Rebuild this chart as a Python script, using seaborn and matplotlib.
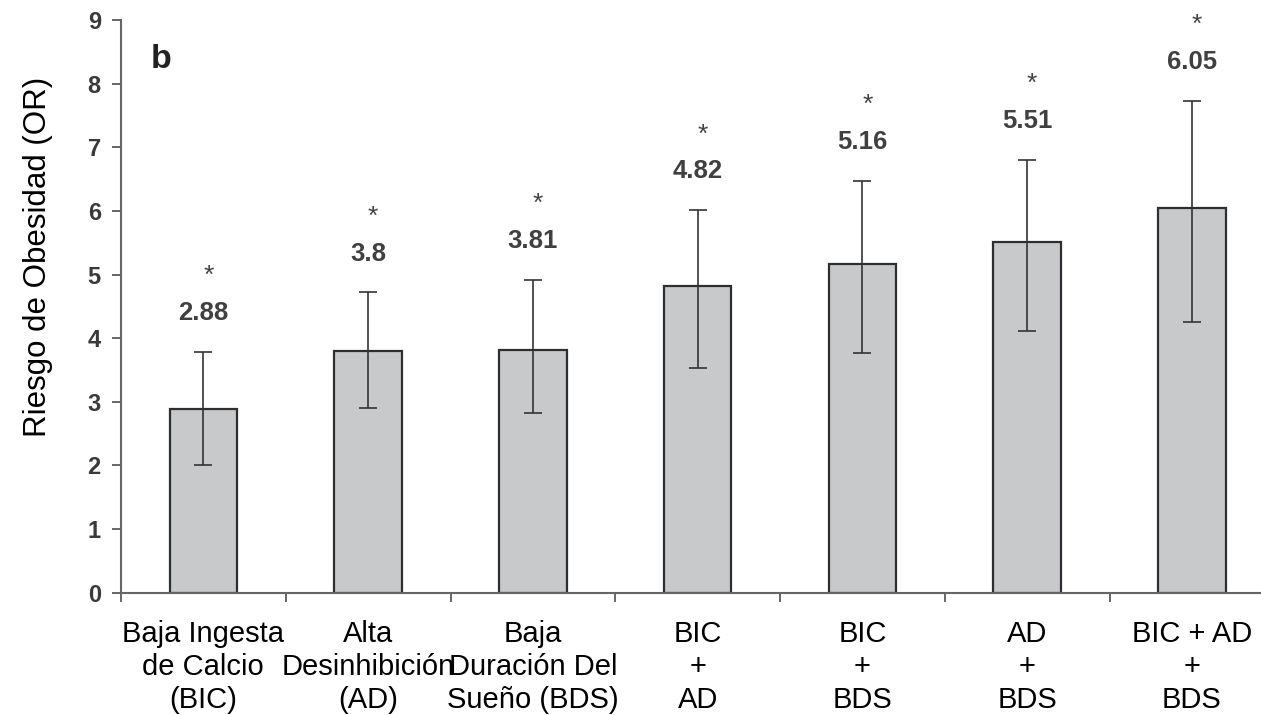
import matplotlib
matplotlib.use("Agg")
import matplotlib.pyplot as plt
import seaborn as sns
import numpy as np
import pandas as pd

# ---- data ----
categories = [
    "Baja Ingesta\nde Calcio\n(BIC)",
    "Alta\nDesinhibición\n(AD)",
    "Baja\nDuración Del\nSueño (BDS)",
    "BIC\n+\nAD",
    "BIC\n+\nBDS",
    "AD\n+\nBDS",
    "BIC + AD\n+\nBDS",
]
odds_ratio = [2.88, 3.8, 3.81, 4.82, 5.16, 5.51, 6.05]
ci_low = [2.00, 2.90, 2.83, 3.53, 3.76, 4.12, 4.25]
ci_high = [3.79, 4.72, 4.92, 6.01, 6.47, 6.80, 7.73]
value_labels = ["2.88", "3.8", "3.81", "4.82", "5.16", "5.51", "6.05"]
y_ticks = [0, 1, 2, 3, 4, 5, 6, 7, 8, 9]

df = pd.DataFrame({"cat": categories, "or": odds_ratio})

sns.set_style("ticks")
plt.rcParams["font.family"] = ["Liberation Sans", "DejaVu Sans"]

W, H = 1261, 715
fig = plt.figure(figsize=(W / 100, H / 100), dpi=100)
left_px, right_px, top_px, bottom_px = 121, 1261, 20, 592.7
ax = fig.add_axes([left_px / W, (H - bottom_px) / H,
                   (right_px - left_px) / W, (bottom_px - top_px) / H])

sns.barplot(data=df, x="cat", y="or", order=categories, color="#c8c9cb",
            saturation=1, width=0.41, edgecolor="#2e2e2e", linewidth=1.6,
            errorbar=None, ax=ax)

xpos = np.arange(len(categories))
vals = np.array(odds_ratio)
lo = np.array(ci_low)
hi = np.array(ci_high)
ax.errorbar(xpos, vals, yerr=[vals - lo, hi - vals], fmt="none",
            ecolor="#333333", elinewidth=1.2, capsize=6.4, capthick=1.2, zorder=5)

for x, h, lab in zip(xpos, hi, value_labels):
    ax.text(x, h + 0.61, lab, ha="center", va="center", fontsize=18.5,
            fontweight="bold", color="#404040")
    ax.text(x + 0.03, h + 1.08, "*", ha="center", va="baseline", fontsize=19,
            color="#444444")

ax.set_xlim(-0.5, -0.5 + (right_px - left_px) / 164.75)
ax.set_ylim(0, 9)
ax.set_yticks(y_ticks)
ax.set_yticklabels([str(t) for t in y_ticks], fontsize=17, fontweight="bold",
                   color="#3a3a3a")

# category labels at centers, tick marks at the boundaries
ax.set_xticks(xpos)
ax.set_xticklabels(categories, fontsize=21, color="black",
                   multialignment="center", linespacing=1.22)
ax.set_xticks(np.arange(len(categories)) - 0.5, minor=True)
ax.tick_params(axis="x", which="major", length=0, pad=20)
ax.tick_params(axis="x", which="minor", length=6.5, width=1.4, color="#666666",
               direction="out")
ax.tick_params(axis="y", which="major", length=6.5, width=1.4, color="#666666",
               pad=8)

for s in ["top", "right"]:
    ax.spines[s].set_visible(False)
for s in ["left", "bottom"]:
    ax.spines[s].set_color("#666666")
    ax.spines[s].set_linewidth(1.5)

ax.set_xlabel("")
ax.set_ylabel("Riesgo de Obesidad (OR)", fontsize=22.5, color="black")
ax.yaxis.set_label_coords(-0.0600, 0.587)

ax.text(0.026, 0.916, "b", transform=ax.transAxes, ha="left", va="baseline",
        fontsize=24.5, fontweight="bold", color="#222222")

fig.savefig("out.png", dpi=100)
